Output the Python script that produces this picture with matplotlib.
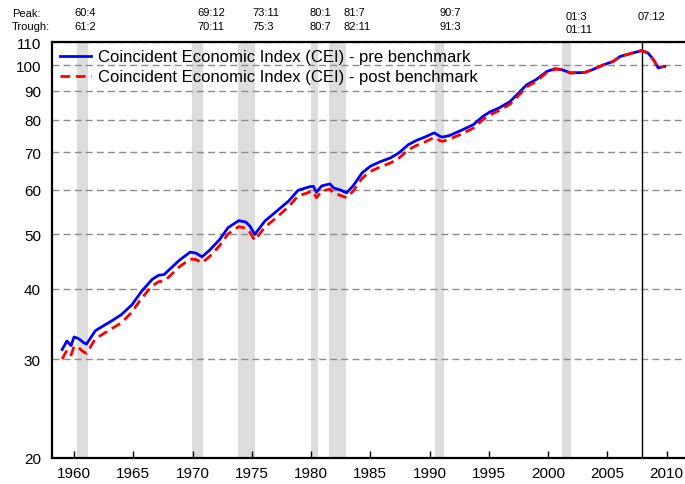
import matplotlib
matplotlib.use("Agg")
import matplotlib.pyplot as plt
import matplotlib.transforms as mtransforms
from matplotlib.ticker import FixedLocator, NullLocator

plt.rcParams['font.family'] = ['Liberation Sans', 'DejaVu Sans']

# ---- data ----
years = [1959.0, 1959.4, 1959.75, 1960.0, 1960.4, 1960.8, 1961.05, 1961.8, 1962.4, 1963.2,
         1964.0, 1964.9, 1965.7, 1966.6, 1967.15, 1967.6, 1968.0, 1968.9, 1969.8, 1970.3,
         1970.8, 1971.5, 1972.3, 1973.0, 1973.9, 1974.5, 1974.85, 1975.25, 1976.1, 1977.1,
         1978.1, 1978.9, 1979.9, 1980.2, 1980.45, 1980.9, 1981.6, 1981.9, 1982.45, 1983.0,
         1983.55, 1984.3, 1985.0, 1985.8, 1986.7, 1987.4, 1988.2, 1988.9, 1989.6, 1990.4,
         1990.9, 1991.1, 1991.7, 1992.8, 1993.7, 1994.5, 1995.1, 1995.9, 1996.8, 1997.5,
         1998.2, 1999.0, 1999.9, 2000.6, 2001.1, 2001.9, 2003.1, 2003.8, 2004.7, 2005.5,
         2006.1, 2006.9, 2007.9, 2008.45, 2008.9, 2009.3, 2009.6, 2009.85]
cei_pre = [31.2, 32.3, 31.7, 32.85, 32.6, 32.1, 31.9, 33.7, 34.3, 35.1,
           36.0, 37.5, 39.6, 41.6, 42.3, 42.4, 43.2, 45.0, 46.5, 46.3,
           45.6, 47.0, 49.0, 51.4, 52.9, 52.6, 51.7, 50.0, 52.8, 55.0,
           57.3, 59.9, 60.8, 60.9, 59.4, 61.0, 61.5, 60.5, 60.0, 59.3,
           61.0, 64.3, 66.1, 67.3, 68.4, 69.8, 72.2, 73.5, 74.5, 75.8,
           74.7, 74.5, 75.0, 76.8, 78.4, 81.1, 82.6, 84.0, 86.2, 89.2,
           92.3, 94.3, 97.5, 98.6, 98.3, 96.9, 97.1, 98.3, 100.2, 101.6,
           103.7, 104.8, 106.2, 105.1, 102.3, 98.9, 99.3, 99.5]
cei_post = [30.0, 31.1, 30.5, 31.6, 31.4, 30.9, 30.7, 32.6, 33.2, 34.0,
            34.8, 36.4, 38.5, 40.5, 41.2, 41.3, 42.0, 43.8, 45.2, 45.1,
            44.5, 45.8, 47.8, 50.1, 51.6, 51.3, 50.4, 48.8, 51.5, 53.6,
            56.0, 58.5, 59.5, 59.6, 58.1, 59.7, 60.2, 59.2, 58.7, 58.1,
            59.7, 62.9, 64.7, 65.9, 67.0, 68.3, 70.7, 72.0, 73.0, 74.4,
            73.4, 73.2, 73.9, 75.6, 77.3, 80.0, 81.6, 83.1, 85.3, 88.3,
            91.5, 93.6, 97.1, 98.4, 98.2, 96.9, 97.1, 98.3, 100.2, 101.6,
            103.7, 104.8, 106.2, 105.1, 102.3, 98.9, 99.3, 99.5]

# recessions: (peak year, peak month, trough year, trough month)
peaks = [(1960, 4), (1969, 12), (1973, 11), (1980, 1), (1981, 7), (1990, 7), (2001, 3), (2007, 12)]
troughs = [(1961, 2), (1970, 11), (1975, 3), (1980, 7), (1982, 11), (1991, 3), (2001, 11), None]
peak_labels = ["60:4", "69:12", "73:11", "80:1", "81:7", "90:7", "01:3", "07:12"]
trough_labels = ["61:2", "70:11", "75:3", "80:7", "82:11", "91:3", "01:11", ""]
label_x = [1960.0, 1970.38, 1975.02, 1979.83, 1982.70, 1990.80, 2001.52, 2007.59]

yticks = [20, 30, 40, 50, 60, 70, 80, 90, 100, 110]
xticks = [1960, 1965, 1970, 1975, 1980, 1985, 1990, 1995, 2000, 2005, 2010]

# ---- figure ----
fig = plt.figure(figsize=(6.85, 4.85), dpi=100)
ax = fig.add_axes([52/685, 1 - 459/485, 1 - 52/685, (459 - 43)/485])
ax.set_yscale('log')
ax.set_ylim(20, 110)
ax.set_xlim(1958.14, 2011.56)

for (py, pm), tr in zip(peaks, troughs):
    if tr is None:
        ax.axvline(py + (pm - 1) / 12, color='black', lw=1.0, zorder=3)
        continue
    ty, tm = tr
    ax.axvspan(py + (pm - 1) / 12, ty + tm / 12, color='#dddddd', lw=0, zorder=0)

for v in yticks[1:]:
    ax.axhline(v, color='#8c8c8c', lw=1.0, ls=(0, (5, 3)), zorder=1)

ax.plot(years, cei_pre, color='#0000ff', lw=2.0, zorder=4,
        label='Coincident Economic Index (CEI) - pre benchmark')
ax.plot(years, cei_post, color='#ff0000', lw=2.0, ls=(0, (3.5, 2)), zorder=5,
        label='Coincident Economic Index (CEI) - post benchmark')

ax.yaxis.set_major_locator(FixedLocator(yticks))
ax.yaxis.set_minor_locator(NullLocator())
ax.set_yticklabels([str(v) for v in yticks])
ax.tick_params(axis='y', length=0, pad=8, labelsize=11)
ax.set_xticks(xticks)
ax.xaxis.set_minor_locator(NullLocator())
ax.tick_params(axis='x', direction='in', length=5, width=1, pad=6, labelsize=11)

for s in ['left', 'bottom', 'top']:
    ax.spines[s].set_linewidth(1.6)
ax.spines['right'].set_visible(False)

leg = ax.legend(loc='upper left', frameon=False, fontsize=12, handlelength=1.9,
                borderaxespad=0.05, labelspacing=0.3, handletextpad=0.4,
                bbox_to_anchor=(0.0, 1.0))

# annotations above plot
trans = mtransforms.blended_transform_factory(ax.transData, fig.transFigure)
fig.text(12/685, 1 - 14/485, "Peak:", fontsize=8, va='center', ha='left')
fig.text(12/685, 1 - 27/485, "Trough:", fontsize=8, va='center', ha='left')
for i, (x, pl, tl) in enumerate(zip(label_x, peak_labels, trough_labels)):
    off = 3.5 if i >= 6 else 0
    ax.text(x, 1 - (13.5 + off)/485, pl, transform=trans, fontsize=8, va='center', ha='left')
    if tl:
        ax.text(x, 1 - (26.5 + off)/485, tl, transform=trans, fontsize=8, va='center', ha='left')

fig.savefig('out.png', dpi=100)
